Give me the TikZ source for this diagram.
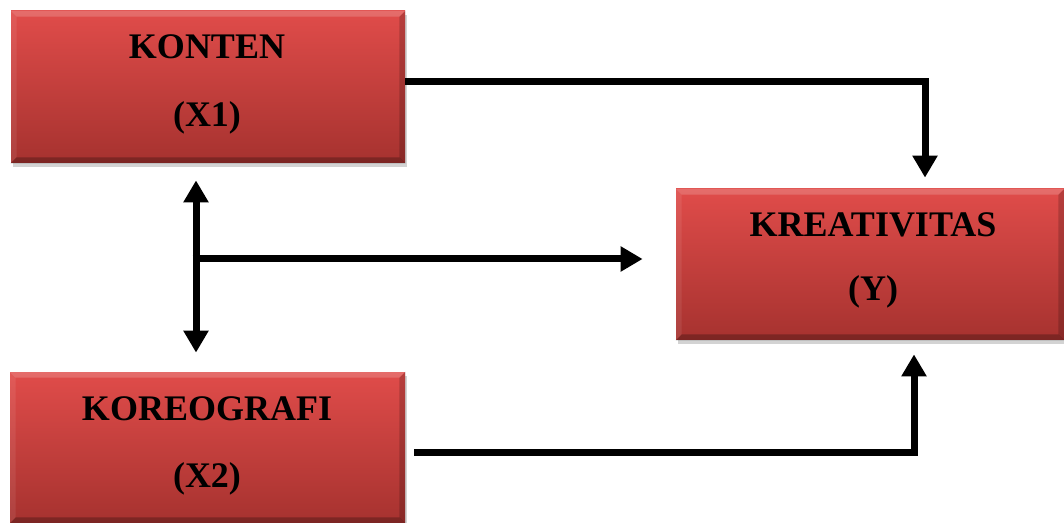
\documentclass[tikz,border=0pt]{standalone}
\usepackage{fontspec}
\setmainfont{Liberation Serif}
\usetikzlibrary{arrows.meta,shadows,calc}
\definecolor{boxtop}{RGB}{224,76,74}
\definecolor{boxbot}{RGB}{166,50,47}
\tikzset{
  redbox/.style={rectangle, top color=boxtop, bottom color=boxbot, draw=none,
    drop shadow={opacity=0.35, shadow xshift=1.2pt, shadow yshift=-1.8pt}},
  lbl/.style={anchor=base, font=\fontsize{18}{20}\selectfont\bfseries, inner sep=0pt},
  arr/.style={line width=3.5pt, -{Triangle[width=12pt,length=11pt]}},
  darr/.style={line width=3.5pt, {Triangle[width=12pt,length=11pt]}-{Triangle[width=12pt,length=11pt]}},
  bevlight/.style={fill=white, fill opacity=0.18},
  bevdark/.style={fill=black, fill opacity=0.18}
}
\begin{document}
\begin{tikzpicture}[x=0.5pt,y=-0.5pt]
\useasboundingbox (0,0) rectangle (1064,523);
% boxes
\node[redbox, minimum width=197pt, minimum height=76pt] (x1) at (208,87) {};
\node[redbox, minimum width=194pt, minimum height=75.5pt] (y) at (870,264.5) {};
\node[redbox, minimum width=197.5pt, minimum height=75.5pt] (x2) at (207.5,447.5) {};
% bevels
\foreach \n in {x1,y,x2}{
  \fill[bevlight] (\n.north west) -- (\n.north east) -- ($(\n.north east)+(-6,6)$) -- ($(\n.north west)+(6,6)$) -- cycle;
  \fill[bevlight, fill opacity=0.08] (\n.north west) -- ($(\n.north west)+(6,6)$) -- ($(\n.south west)+(6,-6)$) -- (\n.south west) -- cycle;
  \fill[bevdark] (\n.north east) -- (\n.south east) -- ($(\n.south east)+(-6,-6)$) -- ($(\n.north east)+(-6,6)$) -- cycle;
  \fill[bevdark, fill opacity=0.25] (\n.south west) -- (\n.south east) -- ($(\n.south east)+(-6,-6)$) -- ($(\n.south west)+(6,-6)$) -- cycle;
}
% labels
\node[lbl] (x1a) at (207,59) {KONTEN};
\node[lbl] (x1b) at (207,127) {(X1)};
\node[lbl] (ya) at (873,237) {KREATIVITAS};
\node[lbl] (yb) at (873,301) {(Y)};
\node[lbl] (x2a) at (207,420) {KOREOGRAFI};
\node[lbl] (x2b) at (207,487) {(X2)};
% connectors
\coordinate (c1s) at ($(x1.east)+(0,-5)$);
\coordinate (c1t) at ($(y.north)+(55,-11)$);
\draw[arr] (c1s) -| (c1t);
\coordinate (c2s) at ($(x2.east)+(9,4.5)$);
\coordinate (c2t) at ($(y.south)+(44,14)$);
\draw[arr] (c2s) -| (c2t);
\coordinate (dtop) at ($(x1.south)+(-12,17)$);
\coordinate (dbot) at ($(x2.north)+(-11.5,-19)$);
\draw[darr] (dtop) -- (dbot);
\coordinate (hs) at (196,259);
\coordinate (ht) at ($(y.west)+(-33,-5.5)$);
\draw[arr] ([xshift=-1.75pt]hs) -- (ht);
\end{tikzpicture}
\end{document}
